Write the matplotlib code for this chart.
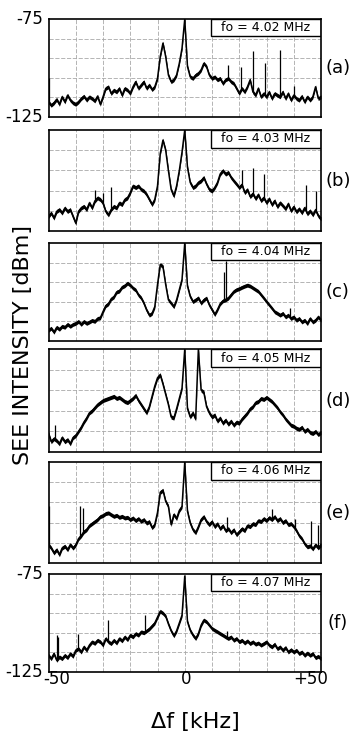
import numpy as np
import matplotlib
matplotlib.use("Agg")
import matplotlib.pyplot as plt
from matplotlib.patches import Rectangle

plt.rcParams['font.family'] = ['DejaVu Sans']

freq = list(range(-50, 51))  # kHz offset

labels = ["(a)", "(b)", "(c)", "(d)", "(e)", "(f)"]
pump = ["4.02", "4.03", "4.04", "4.05", "4.06", "4.07"]

sa = [-117.3, -119, -117.8, -116, -118.5, -114.7, -117.3, -113.9, -116.4, -117.8,
      -118.5, -117.3, -115.6, -114.4, -116.4, -114.7, -115.6, -116.8, -114.4, -118.5,
      -114.7, -110.4, -109.6, -113, -111.3, -112.2, -110.4, -113.9, -110.4, -111.3,
      -113, -109.6, -107, -110.4, -108.7, -107, -110.4, -108.7, -111, -109.6,
      -105.3, -94.2, -87.3, -94.2, -103.6, -107, -106, -103.6, -97.6, -89.9,
      -75, -99.3, -104.5, -105.3, -103.6, -102.7, -101, -97.6, -99.3, -103.6,
      -105.3, -104.5, -106, -105.3, -107.9, -106, -105.3, -107, -107.9, -110.4,
      -113, -110.4, -112.2, -109.6, -106, -112.2, -113.9, -110.4, -114.7, -113,
      -114.7, -112.2, -115.6, -113, -113.9, -114.7, -112.2, -115.6, -113, -116.4,
      -113.9, -115.6, -116.4, -114.4, -117.3, -114.7, -116.4, -114.7, -109.6, -115.6, -114.7]

sb = [-117.8, -116.1, -118.6, -115.3, -114.4, -116.1, -113.6, -115.3, -114.4, -117.8,
      -121.1, -115.3, -113.6, -112.8, -114.4, -111.1, -113.6, -110.2, -108.6, -109.4,
      -111.1, -115.3, -117, -114.4, -112.8, -113.6, -111.1, -111.9, -109.4, -108.6,
      -106, -102.7, -103.5, -102.7, -104.4, -105.2, -106.9, -109.4, -111.9, -109.4,
      -102.7, -86.7, -80, -85, -95.1, -104.4, -107.7, -102.7, -95.1, -85.9,
      -75, -93.5, -101, -103.5, -102.7, -101, -100.2, -98.5, -101.8, -104.4,
      -105.2, -103.5, -101, -96.8, -95.1, -96.8, -96, -98.5, -100.2, -101.8,
      -103.5, -102, -106, -104.5, -108, -106.5, -109, -107, -110, -108.5,
      -111, -109, -112, -110, -113, -111, -112.5, -114, -111.5, -115,
      -113, -115.5, -114, -116, -113.5, -116.5, -115, -117, -114.5, -117.5, -119]

sc = [-119.5, -118.5, -120.5, -118, -119, -117.5, -118, -116.5, -117.5, -116.5,
      -116, -115, -116.5, -115, -116, -115.3, -114.5, -115, -113.5, -113.2,
      -110, -107, -106, -103.5, -102.5, -100, -99.5, -97.5, -96.8, -95.5,
      -96.5, -98, -99, -101.5, -103, -105.7, -109.2, -111.8, -110.9, -107.5,
      -96.2, -86, -87, -96.2, -104, -105.7, -107.5, -104, -98.8, -93.6,
      -75, -97, -102.3, -104.9, -104, -103, -105.7, -104, -103.1, -106.6,
      -109, -111.5, -109, -106, -104.5, -104, -103.1, -101.4, -99.7, -98.8,
      -98.3, -97.6, -97, -96.5, -97, -97.9, -98.8, -99.7, -101.4, -103.1,
      -104.9, -106.6, -108.3, -110.1, -110.9, -111.8, -110.9, -112.7, -111.8, -113.5,
      -112.7, -114.4, -113.5, -115.3, -114.4, -116.1, -113.5, -115.3, -114.4, -112.7, -114.4]

sd = [-116, -120, -118.5, -119.5, -121, -118, -120, -119, -121, -118,
      -117, -115, -113, -110.5, -108.5, -106, -105, -103.5, -102, -101,
      -100, -99.5, -99, -98.5, -98, -99, -98.5, -99.5, -100.5, -101,
      -100, -99, -97.5, -100, -102, -104, -106, -103, -98, -93,
      -89, -87.5, -92, -97, -102, -108, -108.5, -104, -99, -94,
      -75, -104, -108, -106, -109, -75, -95, -96, -103, -106,
      -108, -107, -110, -108.5, -111, -109.5, -111.5, -110, -112, -110.5,
      -111, -109, -107.5, -106, -104, -103, -101, -100.5, -99, -99.5,
      -98.5, -99.5, -100.5, -102, -103.5, -105.5, -107, -109, -110.5, -112,
      -112.5, -113.5, -114, -113, -115, -114, -115.5, -116, -115, -116.5, -115.5]

se = [-116, -117.6, -120, -118.4, -120.9, -117.6, -116.7, -118.4, -115.9, -117.6,
      -116, -113, -111.5, -109.5, -108.5, -106.5, -105.5, -104.5, -103.5, -102,
      -101.5, -100.5, -100.2, -101.1, -101.9, -101.4, -102.4, -101.9, -102.7, -102.4,
      -103.5, -102.7, -104, -103, -104.4, -103.5, -105.2, -104.5, -107.5, -106,
      -100, -90, -89, -94.5, -97, -106, -101, -103, -99, -97,
      -75, -99.4, -105.2, -108.5, -110, -107, -103.5, -102, -104.5, -106,
      -104.5, -107, -105.5, -108, -106.5, -109, -108, -110, -108.5, -111,
      -109.5, -108, -109, -106.5, -107, -105.5, -106, -104, -104.5, -103,
      -104, -102.5, -103.5, -102, -104, -103, -105, -104, -106, -105.5,
      -107, -109, -111.5, -113, -115.5, -117, -116.5, -118, -116, -117.5, -116]

sf = [-116.5, -118.2, -115.6, -119, -117.3, -118.2, -116.5, -117.7, -115.6, -117,
      -113.9, -113.1, -114.8, -112.2, -113.9, -111.3, -109.6, -110.4, -108.8, -109.6,
      -111.3, -107.9, -109.6, -110.5, -108.8, -110.2, -107.9, -109.1, -107.1, -108.5,
      -106.2, -107.1, -105.4, -106.2, -104.5, -105, -104, -103, -101.5, -100,
      -97, -94, -95, -96.5, -100.5, -104, -106.5, -104, -100, -96,
      -76, -99.4, -103.7, -106.2, -107.9, -105.4, -101.1, -98.5, -99.4, -101.1,
      -102.8, -103.7, -104.5, -105.4, -106.2, -107.1, -107.9, -107.1, -108.8, -107.9,
      -109.6, -108.8, -110.2, -109.1, -110.5, -109.6, -110.8, -110.2, -111.3, -110.5,
      -109.6, -111.3, -112.2, -110.8, -113.1, -112.2, -113.9, -112.5, -114.8, -113.6,
      -114.8, -113.9, -115.6, -114.8, -116.5, -115.3, -116.5, -115.6, -117.7, -117, -118.2]

spectra = [sa, sb, sc, sd, se, sf]

# narrow spurious spikes: frequency (kHz) and top level (dBm)
spike_f = [
    [-50, 16, 20.5, 25, 29.5, 35, 40],
    [-33, -30, -27, 21, 25, 29, 44.5, 48],
    [14.3, 15, 38.5],
    [-47.5],
    [-50, -38.5, -37.5, 15.5, 32, 40.5, 46.5, 49],
    [-47, -46.5, -39, -28, -14.5, 15.5],
]
spike_top = [
    [-105, -98.5, -99.5, -91.5, -97.5, -91, -109],
    [-104.5, -106, -103, -95, -94, -97, -102, -105],
    [-90, -84, -108],
    [-112],
    [-97, -97, -98, -102, -98.5, -103, -104, -106],
    [-106, -107, -105.5, -98.5, -96, -104],
]

W, H = 355, 734
fig = plt.figure(figsize=(W / 100, H / 100), dpi=100)

# panel pixel extents (top, bottom)
rows = [(19, 117), (130, 231), (243, 341), (349, 452), (462, 563), (574, 672)]
xl, xr = 48.5, 321
fuzz = 1.0  # half width of the drawn noise band (dB), styling only

axes = []
for i, (t, b) in enumerate(rows):
    ax = fig.add_axes([xl / W, 1 - b / H, (xr - xl) / W, (b - t) / H])
    axes.append(ax)
    ax.set_xlim(-50, 50)
    ax.set_ylim(-125, -75)
    for gx in range(-40, 50, 10):
        ax.axvline(gx, color='#a8a8a8', lw=0.6, ls=(0, (5, 2)), zorder=1)
    for gy in range(-115, -75, 10):
        ax.axhline(gy, color='#a8a8a8', lw=0.6, ls=(0, (5, 2)), zorder=1)
    s = np.array(spectra[i])
    ax.fill_between(freq, s - fuzz, s + fuzz, color='black', lw=0, zorder=2)
    ax.plot(freq, s, color='black', lw=1.1, zorder=2)
    base = np.interp(spike_f[i], freq, s)
    ax.vlines(spike_f[i], base, spike_top[i], color='black', lw=0.9, zorder=2)
    ax.set_xticks([])
    ax.set_yticks([])
    for sp in ax.spines.values():
        sp.set_linewidth(1.2)
        sp.set_zorder(5)
    ax.add_patch(Rectangle((0.595, 0.825), 0.405, 0.175, transform=ax.transAxes,
                           facecolor='white', edgecolor='black', lw=1.0, zorder=4))
    ax.text(0.797, 0.912, "fo = %s MHz" % pump[i], transform=ax.transAxes,
            ha='center', va='center', fontsize=9, zorder=6)
    ax.text(1.062, 0.5, labels[i], transform=ax.transAxes, ha='center', va='center',
            fontsize=13)

for idx in (0, 5):
    ax = axes[idx]
    ax.text(-0.02, 1.0, "-75", transform=ax.transAxes, ha='right', va='center', fontsize=12)
    ax.text(-0.02, 0.0, "-125", transform=ax.transAxes, ha='right', va='center', fontsize=12)

axf = axes[5]
axf.text(-52, -128.5, "-50", ha='left', va='center', fontsize=12)
axf.text(0.5, -128.5, "0", ha='center', va='center', fontsize=12)
axf.text(52.5, -128.5, "+50", ha='right', va='center', fontsize=12)

fig.text(195 / W, 1 - 722 / H, "\u0394f [kHz]", ha='center', va='center', fontsize=16)
fig.text(23 / W, 1 - 345 / H, "SEE INTENSITY [dBm]", ha='center', va='center',
         rotation=90, fontsize=16)

fig.savefig("out.png", dpi=100)
